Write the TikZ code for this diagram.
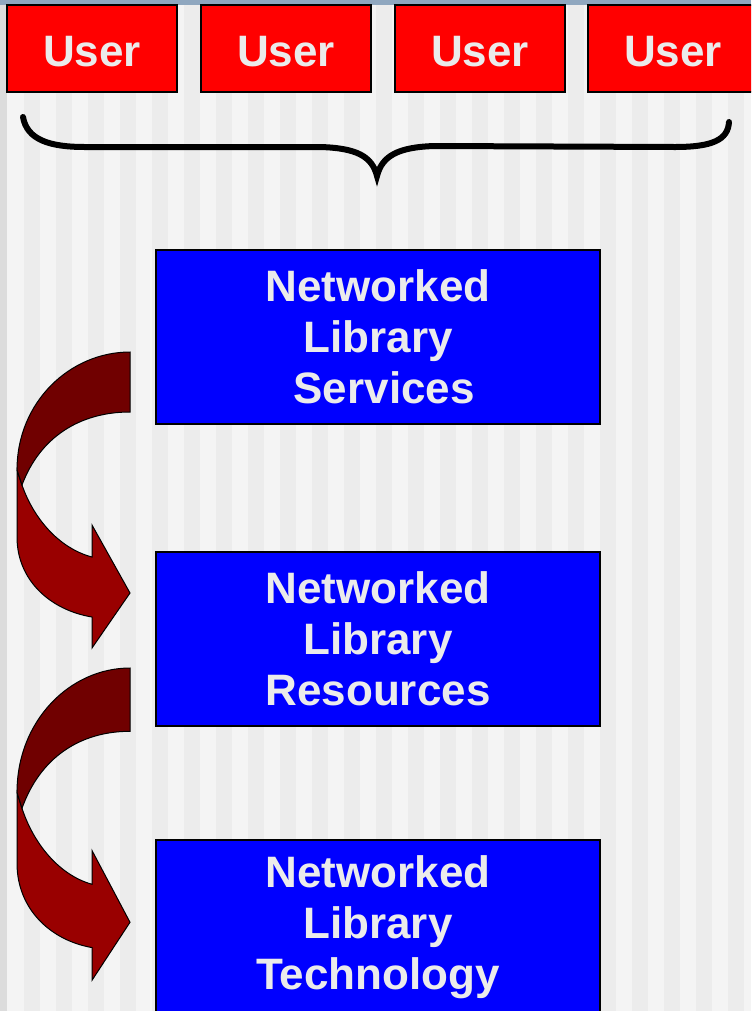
\documentclass[tikz,border=0pt]{standalone}
\usepackage{fontspec}
\setmainfont{Liberation Sans}
\definecolor{stripelight}{HTML}{F4F4F4}
\definecolor{stripedark}{HTML}{ECECEC}
\definecolor{edgegray}{HTML}{DCDCDC}
\definecolor{topbar}{HTML}{8FA7BF}
\definecolor{labelgray}{HTML}{EBEBEB}
\definecolor{userred}{HTML}{FF0000}
\definecolor{layerblue}{HTML}{0000FF}
\definecolor{bandtop}{HTML}{700000}
\definecolor{bandlow}{HTML}{990000}
\newcommand{\turnarrow}{%
    % lower band
    \draw[fill=bandlow, line width=0.75pt, line join=miter]
        (22,133) .. controls (33,165) and (58,196) .. (92,205)
        -- (92,173) -- (130,241) -- (92,296) -- (92,265)
        .. controls (50,258) and (17,228) .. (17,185) -- (17,118) -- cycle;
    % upper band
    \draw[fill=bandtop, line width=0.75pt]
        (130,0) .. controls (70,0) and (17,50) .. (17,118)
        -- (22,133) .. controls (40,85) and (80,60) .. (130,60) -- cycle;
}
\begin{document}
\begin{tikzpicture}[x=0.75pt, y=-0.75pt,
    userbox/.style={draw=black, line width=1.5pt, fill=userred, text=labelgray,
        minimum width=127.5pt, minimum height=65.25pt, inner sep=0pt,
        text height=27.4pt, text depth=0pt,
        font=\fontsize{33}{38.25}\selectfont\bfseries},
    layerbox/.style={draw=black, line width=1pt, fill=layerblue, text=labelgray,
        minimum width=333pt, minimum height=130.5pt, align=center, inner sep=0pt,
        font=\fontsize{33}{38.25}\selectfont\bfseries}]
    \useasboundingbox (0,0) rectangle (751,1011);
    \clip (0,0) rectangle (751,1011);

    % Background
    \fill[stripelight] (0,0) rectangle (751,1011);
    \foreach \x in {24,56,...,728} {
        \fill[stripedark] (\x,0) rectangle (\x+16,1011);
    }
    \fill[edgegray] (0,0) rectangle (7,1011);
    \fill[topbar] (0,0) rectangle (751,5);

    % Users
    \foreach \i/\cx in {1/92, 2/286, 3/480, 4/673} {
        \node[userbox] (user\i) at (\cx,48.5) {User};
    }

    % Brace
    \draw[line width=4.5pt, line cap=round]
        (23,117) .. controls (27,140) and (50,147) .. (85,147) -- (320,147)
        .. controls (356,148) and (372,156) .. (377,176)
        .. controls (382,156) and (398,147) .. (435,146) -- (675,147)
        .. controls (712,147) and (728,140) .. (729,122);

    % Layers
    \node[layerbox] (services) at (378,337) {Networked\\Library\\\hspace*{0.28em}Services};
    \node[layerbox] (resources) at (378,639) {Networked\\Library\\Resources};
    \node[layerbox] (technology) at (378,927) {Networked\\Library\\Technology};

    % Arrows between layers
    \begin{scope}[shift={(0,352)}]
        \turnarrow
    \end{scope}
    \begin{scope}[shift={(0,668)}, yscale=1.055]
        \turnarrow
    \end{scope}
\end{tikzpicture}
\end{document}
